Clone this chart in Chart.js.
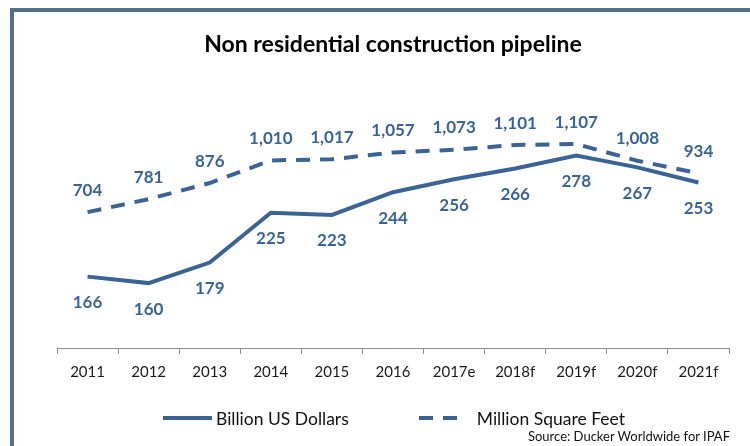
<!DOCTYPE html>
<html>
<head>
<meta charset="utf-8">
<script src="https://cdn.jsdelivr.net/npm/chart.js@4.4.1/dist/chart.umd.min.js"></script>
<style>
  html, body { margin: 0; padding: 0; background: #fff; }
  #wrap { position: relative; width: 750px; height: 446px; overflow: hidden; font-family: Lato, sans-serif; }
  #frame { position: absolute; left: 10px; top: 8px; width: 740px; height: 440px;
           border-left: 4px solid #52708a; border-top: 4px solid #52708a; }
  #popChart { position: absolute; left: 0; top: 0; }
  #legend { position: absolute; left: 163px; top: 406px; height: 24px; display: flex; align-items: center;
            font-size: 17.5px; color: #111; white-space: nowrap; }
  .sample { height: 4px; }
  #source { position: absolute; right: 20px; top: 428px; font-size: 13px; color: #111; }
</style>
</head>
<body>
<div id="wrap">
  <div id="frame"></div>
  <canvas id="popChart" width="750" height="446"></canvas>
  <div id="legend"></div>
  <div id="source">Source: Ducker Worldwide for IPAF</div>
</div>
<script>
    "use strict";

    var years = ["2011", "2012", "2013", "2014", "2015", "2016", "2017e", "2018f", "2019f", "2020f", "2021f"];
    var billionUsd = [166, 160, 179, 225, 223, 244, 256, 266, 278, 267, 253];
    var millionSqft = [704, 781, 876, 1010, 1017, 1057, 1073, 1101, 1107, 1008, 934];
    var seriesNames = ["Billion US Dollars", "Million Square Feet"];

    var blue = "#3b6494";

    // value labels under the solid line, above the dashed one
    var valueLabels = {
        id: "valueLabels",
        afterDatasetsDraw: function(chart) {
            var ctx = chart.ctx;
            ctx.save();
            ctx.font = "bold 17px Lato";
            ctx.fillStyle = blue;
            ctx.textAlign = "center";
            ctx.textBaseline = "middle";
            chart.data.datasets.forEach(function(ds, i) {
                var off = i === 0 ? 26 : -22;
                chart.getDatasetMeta(i).data.forEach(function(pt, j) {
                    ctx.fillText(ds.data[j].toLocaleString("en-US"), pt.x, pt.y + off);
                });
            });
            ctx.restore();
        }
    };

    var datos = {
        type: "line",
        data: {
            labels: years,
            datasets: [{
                label: seriesNames[0],
                data: billionUsd,
                borderColor: blue,
                borderWidth: 4,
                pointRadius: 0,
                yAxisID: "y"
            }, {
                label: seriesNames[1],
                data: millionSqft,
                borderColor: blue,
                borderWidth: 4,
                borderDash: [14, 10],
                pointRadius: 0,
                yAxisID: "y1"
            }]
        },
        options: {
            responsive: false,
            animation: false,
            layout: { padding: { left: 57, right: 21, top: 0, bottom: 56 } },
            plugins: {
                legend: { display: false },
                tooltip: { enabled: false },
                title: {
                    display: true,
                    text: "Non residential construction pipeline",
                    color: "#000",
                    font: { family: "Lato", size: 23, weight: "bold" },
                    padding: { top: 31, bottom: 19 }
                }
            },
            scales: {
                x: {
                    offset: true,
                    grid: { offset: true, drawOnChartArea: false, tickLength: 6, color: "#8c8c8c" },
                    border: { color: "#8c8c8c" },
                    ticks: { color: "#1a1a1a", padding: 9, font: { family: "Lato", size: 15 } }
                },
                y: { display: false, min: 100, max: 350 },
                y1: { display: false, min: -100, max: 1500 }
            }
        },
        plugins: [valueLabels]
    };

    var popCanvas = document.getElementById("popChart").getContext("2d");
    window.line = new Chart(popCanvas, datos);

    // legend in html
    var legend = document.getElementById("legend");
    legend.innerHTML =
        '<div class="sample" style="width:49px;background:' + blue + '"></div>' +
        '<span style="margin-left:4px;margin-right:70px">' + seriesNames[0] + '</span>' +
        '<div class="sample" style="width:48px;background:repeating-linear-gradient(90deg,' + blue + ' 0 14px,transparent 14px 24px)"></div>' +
        '<span style="margin-left:10px">' + seriesNames[1] + '</span>';
</script>
</body>
</html>
